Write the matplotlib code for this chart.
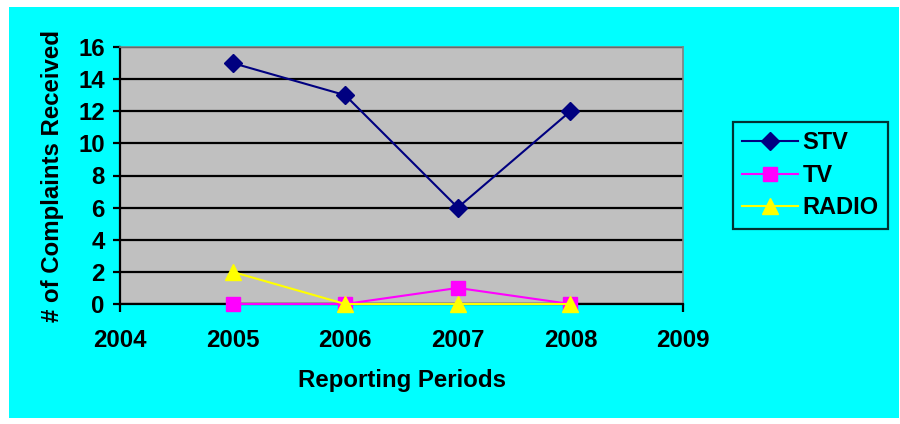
import matplotlib.pyplot as plt
from matplotlib.patches import Rectangle

years = [2005, 2006, 2007, 2008]
stv = [15, 13, 6, 12]
tv = [0, 0, 1, 0]
radio = [2, 0, 0, 0]
series = [
    ("STV", stv, "#000080", "D", 9),
    ("TV", tv, "#FF00FF", "s", 10),
    ("RADIO", radio, "#FFFF00", "^", 11),
]

plt.rcParams["font.family"] = ["Liberation Sans", "DejaVu Sans"]
plt.rcParams["font.weight"] = "bold"
FS = 17.3

fig = plt.figure(figsize=(9, 4.24), dpi=100, facecolor="white")
# cyan panel inside a thin white margin
fig.patches.append(Rectangle((9 / 900, 6 / 424), 890 / 900, 411 / 424,
                             transform=fig.transFigure, facecolor="#00FFFF",
                             edgecolor="none", zorder=-5))

ax = fig.add_axes([120 / 900, 120 / 424, 563 / 900, 257 / 424])
ax.set_facecolor("#C0C0C0")

for name, vals, color, marker, ms in series:
    ax.plot(years, vals, color=color, lw=1.5, marker=marker, ms=ms,
            markeredgecolor=color, label=name, clip_on=False, zorder=3)

ax.set_xlim(2004, 2009)
ax.set_ylim(0, 16)
ax.set_xticks(range(2004, 2010))
ax.set_yticks(range(0, 17, 2))
ax.yaxis.grid(True, color="black", lw=1.6)
ax.set_axisbelow(True)

for side in ("top", "right"):
    ax.spines[side].set_color("#808080")
    ax.spines[side].set_linewidth(1.2)
ax.spines["left"].set_linewidth(1.6)
ax.spines["bottom"].set_linewidth(1.6)

ax.tick_params(axis="y", length=5, width=1.6, pad=6, labelsize=FS)
ax.tick_params(axis="x", length=6, width=1.6, pad=12, labelsize=FS)
for lab in ax.get_xticklabels() + ax.get_yticklabels():
    lab.set_fontweight("bold")

ax.set_xlabel("Reporting Periods", fontsize=FS, fontweight="bold", labelpad=12)
ax.set_ylabel("# of Complaints Received", fontsize=FS, fontweight="bold", labelpad=10)

leg = fig.legend(loc="upper left", bbox_to_anchor=(733 / 900, 1 - 122 / 424),
                 frameon=True, fancybox=False, fontsize=17,
                 handlelength=2.35, borderpad=0.4, labelspacing=0.4,
                 handletextpad=0.2, borderaxespad=0)
leg.get_frame().set_edgecolor("black")
leg.get_frame().set_facecolor("#00FFFF")
leg.get_frame().set_linewidth(1.6)
for t in leg.get_texts():
    t.set_fontweight("bold")

fig.savefig("out.png", dpi=100, facecolor="white")
